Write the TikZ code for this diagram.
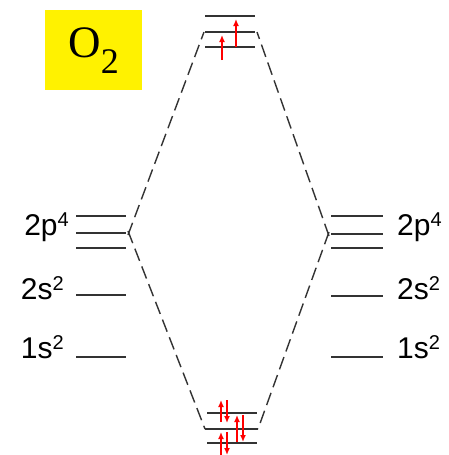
\documentclass[tikz,border=0pt]{standalone}
\usepackage{fontspec}
\setmainfont{Liberation Serif}
\newfontfamily\lblfont{Liberation Sans}
\usetikzlibrary{positioning, arrows.meta}

\newcommand\upidx[1]{\raisebox{9pt}{\fontsize{20}{20}\selectfont #1}}

\begin{document}
\begin{tikzpicture}[
  x=1pt, y=-1pt,
  level/.style={line width=2pt, black!80},
  corr/.style={line width=1.4pt, black!80, dash pattern=on 13pt off 6pt},
  elec/.style={-{Latex[length=7pt,width=6pt]}, red, line width=1.8pt},
  lbl/.style={inner sep=0pt, font=\lblfont\fontsize{30}{30}\selectfont},
  title/.style={fill=yellow, minimum width=97pt, minimum height=80pt,
    inner sep=0pt, font=\fontsize{45}{45}\selectfont}
]
  \useasboundingbox (0,0) rectangle (448,455);

  \node[title, anchor=north west] (mol) at (45,10)
    {O\raisebox{-16pt}{\fontsize{36}{36}\selectfont 2}};

  % energy levels: atoms left/right, molecular orbitals top/bottom
  \foreach \n/\xa/\xb/\y in {
      la/76/126/216, lb/76/126/233, lc/76/126/248,
      ls/76/126/295, lk/76/126/357,
      ra/331/383/216, rb/331/383/234, rc/331/383/248,
      rs/331/383/296, rk/331/383/357,
      ta/205/255/16, tb/205/255/32, tc/205/255/47,
      ba/207/257/413, bb/205/258/429, bc/207/257/443}
  {
    \coordinate (\n w) at (\xa,\y);
    \coordinate (\n e) at (\xb,\y);
    \draw[level] (\n w) -- (\n e);
  }

  % labels
  \node[lbl, anchor=base east] (l2p) at (69,235) {2p\upidx{4}};
  \node[lbl, anchor=base east] (l2s) at (64,299) {2s\upidx{2}};
  \node[lbl, anchor=base east] (l1s) at (64,358) {1s\upidx{2}};
  \node[lbl, anchor=base west] (r2p) at (397,235) {2p\upidx{4}};
  \node[lbl, anchor=base west] (r2s) at (397,299) {2s\upidx{2}};
  \node[lbl, anchor=base west] (r1s) at (397,358) {1s\upidx{2}};

  % correlation lines
  \draw[corr] ([xshift=2pt, yshift=-2pt]lbe) -- ([xshift=-1pt]tbw);
  \draw[corr] ([xshift=2pt, yshift=2pt]lbe) -- (bbw);
  \draw[corr] ([xshift=-2pt, yshift=-2pt]rbw) -- ([xshift=2pt]tbe);
  \draw[corr] ([xshift=-2pt, yshift=2pt]rbw) -- (bbe);

  % electrons
  \draw[elec] (222,60) -- (222,35);
  \draw[elec] (236,47) -- (236,19);
  \draw[elec] (221,422) -- (221,400);
  \draw[elec] (227,400) -- (227,423);
  \draw[elec] (221,455) -- (221,432);
  \draw[elec] (227,432) -- (227,455);
  \draw[elec] (237,442) -- (237,415);
  \draw[elec] (243,415) -- (243,442);
\end{tikzpicture}
\end{document}
